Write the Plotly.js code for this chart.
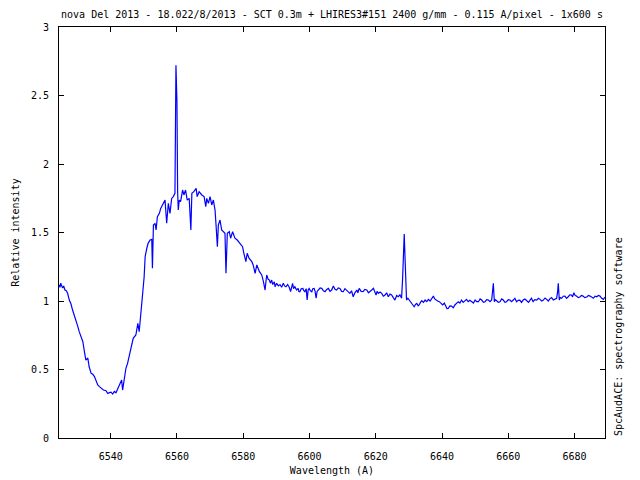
<!DOCTYPE html>
<html>
<head>
<meta charset="utf-8">
<script src="https://cdn.plot.ly/plotly-3.0.1.min.js"></script>
<style>html,body{margin:0;padding:0;background:#fff}#chart{width:640px;height:480px}</style>
</head>
<body>
<div id="chart"></div>
<script>
// Wavelength (Angstrom)
var wavelength = [
6524.4,6524.7,6524.9,6525.2,6525.5,6525.8,6526.2,6526.6,6527.0,6527.5,6528.0,6528.5,6529.0,6529.5,6530.0,6530.5,6531.0,6531.6,
6532.0,6532.5,6533.1,6533.5,6534.1,6534.6,6535.1,6535.6,6536.1,6536.6,6537.1,6537.8,6538.6,6539.1,6539.6,
6540.1,6540.6,6541.1,6541.6,6542.1,6542.6,6543.3,6543.6,6544.1,6544.6,6545.1,6545.6,6546.1,
6546.8,6547.6,6548.2,6548.6,6548.9,6549.1,6549.7,6550.1,6550.4,6550.9,
6551.3,6551.9,6552.4,6552.6,6552.9,6553.4,6553.7,6554.1,6554.7,6555.1,
6555.7,6556.4,6556.9,6557.4,6557.9,6558.4,6558.9,6559.4,6559.7,6560.0,
6560.2,6560.4,6560.7,6561.1,6561.7,6562.1,6562.6,6563.1,6563.7,6564.2,
6564.5,6565.1,6565.8,6566.1,6566.7,6567.5,6568.2,6568.7,6569.0,6569.5,
6570.0,6570.5,6571.0,6571.5,6571.8,6572.2,6572.5,6573.0,6573.5,6574.0,
6574.5,6574.8,6575.2,6575.8,6576.2,6576.8,6577.5,6578.2,6579.0,6579.8,
6580.2,6580.8,6581.2,6581.8,6582.6,6583.0,6583.6,6584.1,6584.9,6585.6,
6586.1,6586.4,6586.6,6586.9,6587.1,6587.5,6587.9,6588.2,6588.6,6588.9,6589.1,6589.4,6589.6,6589.9,
6590.1,6590.6,6591.1,6591.6,6592.1,6592.5,6592.9,6593.4,6593.9,6594.3,6594.6,6594.9,6595.2,6595.6,
6596.1,6596.6,6596.8,6597.1,6597.5,6598.0,6598.3,6598.6,6599.0,6599.3,6599.6,6599.9,
6600.3,6600.7,6601.0,6601.4,6601.7,6602.0,6602.3,6602.7,6603.2,6603.7,6604.2,6604.7,6605.2,6605.7,
6606.2,6606.7,6607.2,6607.7,6608.2,6608.7,6609.2,6609.7,6610.2,6610.7,6611.2,6611.7,6612.2,6612.7,
6613.2,6613.7,6614.3,6614.6,6615.0,6615.6,6616.2,6616.7,6617.3,6617.8,6618.3,6618.8,6619.3,6619.7,
6620.1,6620.4,6620.8,6621.3,6621.8,6622.3,6622.8,6623.3,6623.8,6624.3,6624.8,6625.3,6625.8,6626.3,
6626.8,6627.3,6627.8,6628.1,6628.6,6628.9,6629.3,6629.7,6630.1,6630.5,6630.9,6631.2,6631.6,6632.0,
6632.4,6632.8,6633.1,6633.5,6633.9,6634.4,6634.9,6635.4,6635.9,6636.4,6636.9,6637.4,6637.8,6638.2,
6638.7,6639.2,6639.7,6640.2,6640.7,6641.2,6641.5,6641.9,6642.4,6642.9,6643.4,6643.9,6644.4,6644.9,
6645.4,6645.9,6646.4,6646.9,6647.4,6647.9,6648.4,6649.0,6649.5,6650.0,6650.5,6651.0,6651.5,6652.0,
6652.5,6653.0,6653.5,6654.0,6654.5,6655.0,6655.3,6655.5,6655.8,6656.1,6656.5,6657.0,6657.5,6658.0,
6658.5,6659.0,6659.5,6660.0,6660.5,6661.0,6661.5,6662.0,6662.5,6663.0,6663.5,6664.0,6664.5,6665.0,
6665.6,6666.1,6666.6,6667.0,6667.5,6668.0,6668.6,6669.1,6669.6,6670.1,6670.6,6671.1,6671.6,6672.1,
6672.6,6673.1,6673.6,6674.1,6674.6,6674.9,6675.1,6675.4,6675.7,6676.1,6676.6,6677.1,6677.6,6678.1,
6678.6,6679.1,6679.4,6679.8,6680.2,6680.6,6681.1,6681.6,6682.1,6682.6,6683.1,6683.7,6684.2,6684.7,
6685.2,6685.7,6686.2,6686.7,6687.2,6687.7,6688.2,6688.7,6689.2
];
// Relative intensity
var intensity = [
1.117,1.100,1.130,1.105,1.095,1.110,1.080,1.075,1.056,1.007,0.980,0.934,0.900,0.861,0.820,0.776,0.745,0.703,
0.642,0.569,0.584,0.520,0.472,0.465,0.448,0.420,0.387,0.375,0.363,0.350,0.345,0.325,0.331,
0.335,0.321,0.340,0.330,0.355,0.387,0.423,0.350,0.423,0.509,0.545,0.606,0.666,
0.728,0.752,0.837,0.776,0.861,0.958,1.068,1.177,1.323,1.385,
1.421,1.445,1.450,1.239,1.555,1.567,1.518,1.615,1.640,1.676,
1.701,1.737,1.567,1.713,1.640,1.749,1.762,1.786,2.720,2.450,
1.800,1.664,1.737,1.725,1.810,1.774,1.810,1.737,1.749,1.518,
1.786,1.798,1.822,1.762,1.798,1.774,1.762,1.689,1.749,1.713,
1.762,1.701,1.737,1.664,1.555,1.396,1.555,1.591,1.518,1.506,
1.494,1.202,1.494,1.506,1.458,1.506,1.458,1.445,1.421,1.396,
1.348,1.287,1.348,1.311,1.287,1.263,1.202,1.263,1.214,1.190,
1.141,1.110,1.080,1.150,1.190,1.160,1.153,1.130,1.153,1.120,1.129,1.140,1.104,1.120,
1.129,1.110,1.120,1.100,1.129,1.110,1.104,1.120,1.100,1.068,1.100,1.129,1.090,1.104,
1.080,1.092,1.070,1.068,1.090,1.092,1.075,1.068,1.090,1.007,1.080,1.092,
1.075,1.068,1.090,1.092,1.070,1.020,1.070,1.080,1.095,1.092,1.075,1.068,1.085,1.092,
1.070,1.080,1.109,1.085,1.080,1.095,1.092,1.070,1.068,1.090,1.080,1.065,1.056,1.075,
1.031,1.060,1.080,1.060,1.092,1.070,1.068,1.085,1.080,1.060,1.068,1.080,1.092,1.070,
1.044,1.070,1.056,1.065,1.056,1.035,1.044,1.060,1.031,1.050,1.044,1.025,1.007,1.040,
1.031,1.045,1.020,1.158,1.489,1.275,1.007,1.020,1.007,0.995,0.983,0.970,0.958,0.975,
0.983,0.965,0.971,0.990,1.002,0.990,1.007,0.995,1.012,1.000,1.020,1.036,1.015,1.007,
1.000,0.995,0.985,0.971,0.985,0.958,0.945,0.946,0.965,0.963,0.950,0.971,0.985,0.995,
0.985,1.007,0.990,1.002,1.012,0.995,1.005,0.995,0.985,1.007,0.995,0.995,1.015,1.007,
0.990,0.995,1.010,1.007,0.995,1.007,1.085,1.129,0.995,1.010,1.002,0.990,0.995,1.015,
1.007,0.990,0.995,1.010,1.007,0.995,1.007,1.020,0.995,1.005,1.007,0.990,1.007,1.015,
1.002,0.990,1.007,1.020,0.995,1.010,1.007,1.020,1.012,1.000,1.007,1.022,1.012,1.000,
1.017,1.025,1.007,1.015,1.020,1.068,1.129,1.007,1.025,1.020,1.035,1.036,1.020,1.031,
1.045,1.044,1.030,1.060,1.040,1.036,1.025,1.029,1.040,1.036,1.025,1.029,1.040,1.036,
1.025,1.020,1.035,1.031,1.040,1.036,1.020,1.012,1.029
];
var xTicks = [6540,6560,6580,6600,6620,6640,6660,6680];
var yTicks = [0,0.5,1,1.5,2,2.5,3];

var chartTitle = 'nova Del 2013 - 18.022/8/2013 - SCT 0.3m + LHIRES3#151 2400 g/mm - 0.115 A/pixel - 1x600 s';
var xTitle = 'Wavelength (A)';
var yTitle = 'Relative intensity';
var sideNote = 'SpcAudACE: spectrography software';

var F = {family: 'DejaVu Sans Mono, monospace', size: 10, color: '#000'};

var trace = {
  x: wavelength, y: intensity, type: 'scatter', mode: 'lines',
  line: {color: '#0000ff', width: 1.2}, hoverinfo: 'skip'
};

var axisCommon = {
  showline: true, linecolor: '#000', linewidth: 1, mirror: 'ticks',
  ticks: 'inside', ticklen: 5, tickcolor: '#000', tickwidth: 1,
  showgrid: false, zeroline: false, tickfont: F
};

var layout = {
  width: 640, height: 480,
  margin: {l: 59, r: 35, t: 27, b: 42, pad: 0},
  paper_bgcolor: '#fff', plot_bgcolor: '#fff',
  showlegend: false,
  font: F,
  title: {text: chartTitle, font: F, x: 0.5, xref: 'paper', xanchor: 'center',
          y: 1 - 14/480, yref: 'container', yanchor: 'middle'},
  xaxis: Object.assign({}, axisCommon, {
    range: [6524.4, 6689.2], tickmode: 'array', tickvals: xTicks,
    ticktext: xTicks.map(String), ticklabelstandoff: 9,
    title: {text: xTitle, font: F, standoff: 5}
  }),
  yaxis: Object.assign({}, axisCommon, {
    range: [0, 3], tickmode: 'array', tickvals: yTicks,
    ticktext: yTicks.map(String), ticklabelstandoff: 7,
    title: {text: yTitle, font: F, standoff: 9}
  }),
  annotations: [{
    text: sideNote, xref: 'paper', yref: 'paper', x: 1, y: 0,
    xshift: 6, xanchor: 'left', yanchor: 'bottom', textangle: -90,
    showarrow: false, font: F
  }]
};

Plotly.newPlot('chart', [trace], layout, {staticPlot: true, displayModeBar: false});
</script>
</body>
</html>
